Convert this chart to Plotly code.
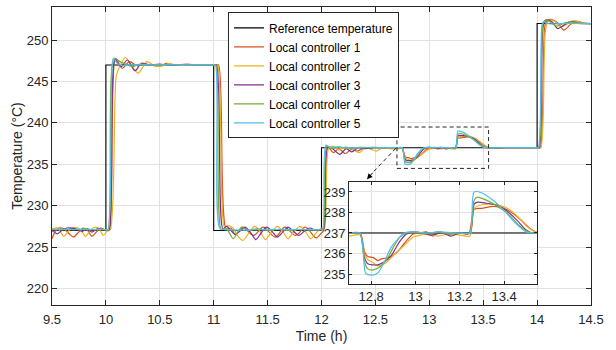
import plotly.graph_objects as go

# Set-point profile (piecewise constant)
ref_time = [9.5, 10.0, 11.0, 12.0, 14.0, 14.5]
ref_temp = [227, 247, 227, 237, 252, 252]

# Local controller 1
c1_time = [9.50, 9.53, 9.56, 9.61, 9.66, 9.70, 9.74, 9.79, 9.83, 9.87, 9.91, 9.95, 9.99, 10.02, 10.035,
           10.09, 10.15, 10.22, 10.29, 10.35, 10.42, 10.50, 10.56, 10.63, 10.75, 10.85, 10.95, 11.02, 11.045,
           11.115, 11.16, 11.20, 11.27, 11.37, 11.46, 11.57, 11.66, 11.76, 11.85, 11.95, 12.00, 12.02,
           12.06, 12.11, 12.16, 12.22, 12.28, 12.33, 12.40, 12.50, 12.60, 12.70, 12.75,
           12.77, 12.785, 12.81, 12.83, 12.85, 12.88, 12.92, 12.95, 12.99, 13.02, 13.05, 13.08, 13.11, 13.15,
           13.20, 13.24, 13.265, 13.30, 13.35, 13.40, 13.44, 13.48, 13.52, 13.56, 13.70, 13.90, 14.01, 14.03,
           14.075, 14.10, 14.13, 14.19, 14.25, 14.31, 14.36, 14.43, 14.50]
c1_temp = [226.0, 226.9, 227.3, 227.2, 226.6, 226.2, 226.7, 227.3, 227.0, 226.3, 226.8, 227.3, 227.1, 227.0, 227.1,
           247.8, 246.6, 247.4, 246.9, 247.15, 246.95, 246.85, 247.2, 247.0, 247.1, 247.0, 247.05, 247.0, 247.0,
           227.2, 227.3, 226.5, 227.4, 226.4, 227.4, 226.2, 227.4, 226.4, 227.4, 226.1, 226.7, 227.0,
           237.1, 236.4, 236.9, 236.3, 236.8, 236.6, 237.0, 237.05, 236.95, 237.0, 237.0,
           236.1, 235.85, 235.8, 235.65, 235.75, 235.8, 236.1, 236.5, 236.95, 237.0, 237.05, 236.85, 237.05, 236.95,
           237.0, 236.95, 238.15, 238.2, 238.3, 238.2, 237.95, 237.6, 237.2, 237.0, 237.0, 237.0, 237.0, 237.0,
           251.9, 252.4, 252.5, 252.1, 251.2, 251.9, 252.3, 252.05, 252.0]

# Local controller 2
c2_time = [9.50, 9.55, 9.58, 9.61, 9.645, 9.68, 9.75, 9.78, 9.81, 9.845, 9.88, 9.93, 9.955, 9.98, 10.01, 10.04,
           10.095, 10.12, 10.18, 10.24, 10.30, 10.38, 10.45, 10.52, 10.58, 10.68, 10.80, 10.90, 11.01, 11.035,
           11.10, 11.13, 11.18, 11.22, 11.27, 11.32, 11.38, 11.43, 11.48, 11.53, 11.59, 11.64, 11.69, 11.74,
           11.80, 11.85, 11.90, 11.95, 12.00, 12.025,
           12.065, 12.10, 12.16, 12.22, 12.29, 12.35, 12.41, 12.46, 12.51, 12.57, 12.63, 12.70, 12.75,
           12.77, 12.785, 12.81, 12.83, 12.86, 12.90, 12.95, 12.99, 13.02, 13.06, 13.10, 13.15, 13.20, 13.245,
           13.265, 13.29, 13.33, 13.38, 13.43, 13.47, 13.51, 13.55, 13.70, 13.90, 14.015, 14.035,
           14.08, 14.11, 14.16, 14.22, 14.29, 14.34, 14.41, 14.50]
c2_temp = [227.2, 227.3, 226.8, 226.3, 226.8, 227.3, 227.25, 226.8, 226.3, 226.8, 227.3, 227.3, 226.8, 226.4, 226.9, 227.1,
           245.6, 246.6, 247.9, 246.9, 246.0, 247.4, 246.9, 246.85, 247.15, 246.95, 247.05, 247.0, 247.0, 247.0,
           227.4, 227.6, 227.3, 226.4, 225.8, 226.6, 227.5, 226.9, 225.9, 226.7, 227.5, 226.9, 226.0, 226.8,
           227.5, 226.9, 226.0, 226.7, 227.3, 227.2,
           236.9, 237.2, 236.7, 237.1, 236.8, 236.4, 237.0, 236.8, 236.6, 237.0, 236.9, 236.85, 236.9,
           236.0, 235.7, 235.55, 235.4, 235.5, 235.9, 236.4, 236.8, 236.9, 236.95, 236.85, 236.95, 236.9, 236.85,
           238.2, 238.35, 238.4, 238.35, 238.1, 237.7, 237.25, 237.02, 237.0, 237.0, 237.0, 237.0,
           251.4, 252.4, 252.3, 251.6, 252.0, 252.35, 252.1, 252.0]

# Local controller 3
c3_time = [9.50, 9.55, 9.59, 9.64, 9.72, 9.78, 9.83, 9.87, 9.92, 9.97, 10.01, 10.03,
           10.085, 10.14, 10.20, 10.27, 10.33, 10.40, 10.50, 10.60, 10.70, 10.85, 11.00, 11.025,
           11.085, 11.12, 11.16, 11.20, 11.25, 11.29, 11.34, 11.39, 11.44, 11.49, 11.54, 11.59, 11.64, 11.69,
           11.74, 11.79, 11.84, 11.89, 11.95, 11.99, 12.02,
           12.055, 12.10, 12.17, 12.23, 12.28, 12.34, 12.40, 12.50, 12.60, 12.73, 12.75,
           12.77, 12.785, 12.83, 12.86, 12.89, 12.93, 12.96, 12.99, 13.03, 13.07, 13.12, 13.16, 13.20, 13.245,
           13.265, 13.28, 13.32, 13.37, 13.41, 13.46, 13.50, 13.53, 13.70, 13.90, 14.00, 14.02,
           14.06, 14.09, 14.14, 14.19, 14.26, 14.31, 14.38, 14.50]
c3_temp = [227.0, 226.6, 227.0, 227.3, 227.2, 226.9, 227.2, 226.8, 227.2, 227.1, 227.1, 227.1,
           247.7, 246.8, 247.6, 246.3, 247.2, 247.0, 247.1, 246.95, 247.05, 247.0, 247.0, 247.0,
           227.2, 227.5, 227.0, 226.5, 227.0, 227.4, 226.8, 225.9, 226.7, 227.4, 226.9, 226.2, 226.8, 227.4,
           226.9, 226.4, 226.9, 227.3, 227.0, 227.1, 227.1,
           237.0, 236.9, 236.2, 236.9, 236.5, 237.0, 236.9, 237.0, 237.0, 237.0, 237.0,
           235.8, 235.5, 235.45, 235.6, 235.9, 236.6, 236.95, 237.05, 237.0, 236.9, 237.0, 236.85, 237.0, 237.0,
           238.4, 238.5, 238.45, 238.35, 238.1, 237.6, 237.15, 237.0, 237.0, 237.0, 237.0, 237.0,
           251.9, 252.45, 252.2, 251.4, 251.9, 252.25, 252.05, 252.0]

# Local controller 4
c4_time = [9.50, 9.60, 9.70, 9.80, 9.90, 10.00, 10.02,
           10.075, 10.13, 10.18, 10.24, 10.32, 10.40, 10.60, 10.80, 11.00, 11.02,
           11.07, 11.11, 11.15, 11.18, 11.22, 11.26, 11.32, 11.40, 11.50, 11.60, 11.70, 11.80, 11.90, 11.99, 12.015,
           12.05, 12.10, 12.16, 12.25, 12.35, 12.50, 12.73, 12.75,
           12.77, 12.785, 12.81, 12.84, 12.87, 12.90, 12.93, 12.96, 13.00, 13.05, 13.10, 13.15, 13.20, 13.245,
           13.265, 13.28, 13.32, 13.37, 13.42, 13.47, 13.51, 13.54, 13.70, 13.90, 13.995, 14.015,
           14.055, 14.08, 14.13, 14.18, 14.25, 14.32, 14.40, 14.50]
c4_temp = [227.1, 227.2, 227.1, 227.2, 227.1, 227.1, 227.1,
           247.8, 247.4, 247.1, 246.8, 247.1, 247.0, 247.05, 247.0, 247.0, 247.0,
           227.1, 227.3, 226.6, 226.0, 226.7, 227.4, 227.0, 227.2, 227.0, 227.15, 227.0, 227.15, 227.05, 227.1, 227.1,
           237.2, 236.9, 237.1, 236.9, 237.05, 237.0, 237.0, 237.0,
           235.6, 235.25, 235.2, 235.35, 235.7, 236.3, 236.8, 237.0, 237.05, 236.95, 237.05, 236.95, 237.0, 237.0,
           238.6, 238.75, 238.6, 238.3, 237.9, 237.35, 237.05, 237.0, 237.0, 237.0, 237.0, 237.0,
           252.0, 252.45, 252.1, 251.7, 252.05, 252.2, 252.0, 252.0]

# Local controller 5
c5_time = [9.50, 9.80, 10.00, 10.02,
           10.07, 10.10, 10.13, 10.16, 10.22, 10.50, 10.80, 10.995, 11.015,
           11.055, 11.10, 11.50, 11.80, 11.99, 12.01,
           12.04, 12.08, 12.12, 12.20, 12.50, 12.73, 12.75,
           12.765, 12.775, 12.80, 12.83, 12.86, 12.89, 12.92, 12.95, 12.99, 13.05, 13.10, 13.20, 13.245,
           13.265, 13.30, 13.35, 13.40, 13.45, 13.50, 13.53, 13.70, 13.90, 13.99, 14.01,
           14.045, 14.06, 14.08, 14.12, 14.20, 14.50]
c5_temp = [227.1, 227.1, 227.1, 227.1,
           247.8, 247.3, 247.0, 246.9, 247.0, 247.0, 247.0, 247.0, 247.0,
           227.3, 227.1, 227.1, 227.1, 227.1, 227.1,
           237.3, 237.0, 237.1, 237.0, 237.0, 237.0, 237.0,
           236.0, 235.05, 234.95, 235.05, 235.6, 236.3, 236.7, 237.0, 237.05, 237.0, 237.05, 237.0, 237.0,
           239.0, 238.95, 238.6, 238.1, 237.5, 237.05, 237.0, 237.0, 237.0, 237.0, 237.0,
           251.8, 252.25, 252.1, 251.95, 252.0, 252.0]

series_names = ["Local controller 1", "Local controller 2", "Local controller 3",
                "Local controller 4", "Local controller 5"]
series_colors = ["#D95319", "#EDB120", "#7E2F8E", "#77AC30", "#4DBEEE"]
series_time = [c1_time, c2_time, c3_time, c4_time, c5_time]
series_temp = [c1_temp, c2_temp, c3_temp, c4_temp, c5_temp]

# Zoomed window shown in the inset
inset_x_range = [12.7, 13.55]
inset_y_range = [234.5, 239.5]

FONT = "Liberation Sans, Arial, Helvetica, sans-serif"
INK = "#262626"
GRID = "#e2e2e2"

fig = go.Figure()

for xa, ya, legend in (("x", "y", True), ("x2", "y2", False)):
    fig.add_trace(go.Scatter(
        x=ref_time, y=ref_temp, mode="lines", name="Reference temperature",
        line=dict(color="black", width=1.1, shape="hv"),
        xaxis=xa, yaxis=ya, showlegend=legend, hoverinfo="skip"))
    for name, color, t, temp in zip(series_names, series_colors, series_time, series_temp):
        fig.add_trace(go.Scatter(
            x=t, y=temp, mode="lines", name=name,
            line=dict(color=color, width=1.2, shape="spline", smoothing=0.8),
            xaxis=xa, yaxis=ya, showlegend=legend, hoverinfo="skip"))

axis_style = dict(
    showline=True, linecolor=INK, linewidth=1, mirror="ticks",
    ticks="inside", tickcolor=INK, tickwidth=1,
    showgrid=True, gridcolor=GRID, gridwidth=1, zeroline=False,
    tickfont=dict(family=FONT, size=13, color=INK),
)

fig.update_layout(
    width=616, height=350, autosize=False,
    margin=dict(l=52, r=25, t=7, b=45),
    paper_bgcolor="white", plot_bgcolor="white",
    font=dict(family=FONT, color=INK),
    xaxis=dict(axis_style, range=[9.5, 14.5], tick0=9.5, dtick=0.5, ticklen=5,
               ticklabelstandoff=2,
               title=dict(text="Time (h)", font=dict(family=FONT, size=14, color=INK), standoff=5),
               automargin=False),
    yaxis=dict(axis_style, range=[218, 254], tick0=220, dtick=5, ticklen=5,
               title=dict(text="Temperature (°C)", font=dict(family=FONT, size=14, color=INK), standoff=0),
               automargin=False),
    xaxis2=dict(axis_style, domain=[0.551, 0.9004], anchor="y2", range=inset_x_range,
                tick0=12.8, dtick=0.2, ticklen=3, automargin=False),
    yaxis2=dict(axis_style, domain=[0.0695, 0.4138], anchor="x2", range=inset_y_range,
                tick0=235, dtick=1, ticklen=3, automargin=False),
    legend=dict(x=0.3265, y=0.982, xanchor="left", yanchor="top",
                bgcolor="white", bordercolor=INK, borderwidth=1,
                font=dict(family=FONT, size=12, color="black"), tracegroupgap=0),
    showlegend=True,
)

# Dashed frame marking the zoomed window on the main axes
fig.add_shape(type="rect", xref="x", yref="y",
              x0=inset_x_range[0], x1=inset_x_range[1],
              y0=inset_y_range[0], y1=inset_y_range[1],
              line=dict(color=INK, width=1, dash="4px,3px"), layer="above")

# Dashed leader from the frame to the inset, ending in an arrowhead
fig.add_shape(type="line", xref="x", yref="y",
              x0=12.69, y0=236.94, x1=12.487, y1=234.16,
              line=dict(color=INK, width=1, dash="4px,3px"), layer="above")
fig.add_annotation(x=12.422, y=233.19, xref="x", yref="y", text="",
                   showarrow=True, ax=7, ay=-8, arrowhead=2, arrowsize=1.1,
                   arrowwidth=1, arrowcolor="black")

fig.write_html("out.html")
